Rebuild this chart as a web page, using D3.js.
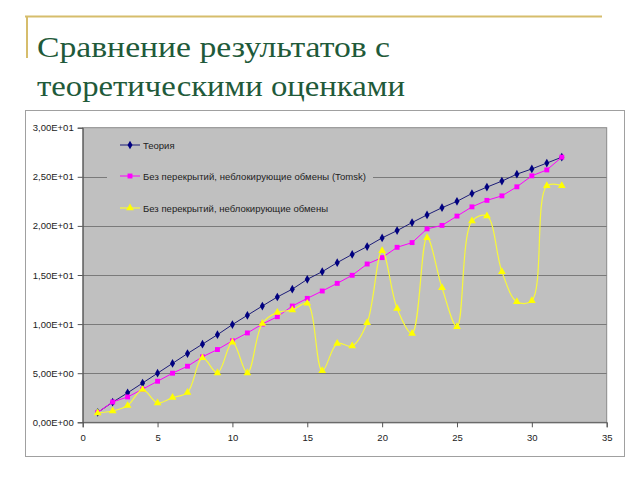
<!DOCTYPE html>
<html><head><meta charset="utf-8">
<script src="https://cdn.jsdelivr.net/npm/d3@7"></script>
<style>html,body{margin:0;padding:0;background:#fff;}svg{display:block;}</style>
</head><body>
<svg id="c" width="640" height="480"></svg>
<script>
const titleLines = ["Сравнение результатов с", "теоретическими оценками"];
const seriesNames = ["Теория", "Без перекрытий, неблокирующие обмены (Tomsk)", "Без перекрытий, неблокирующие обмены"];
const nodes = d3.range(1, 33);
const theory = [1.0, 2.05, 3.0, 4.0, 5.0, 6.0, 7.0, 7.96, 8.92, 9.95, 10.9, 11.84, 12.76, 13.56, 14.56, 15.34, 16.26, 17.1, 17.9, 18.78, 19.52, 20.34, 21.12, 21.85, 22.5, 23.3, 23.95, 24.56, 25.27, 25.8, 26.4, 27.0];
const tomsk = [1.0, 2.07, 2.58, 3.37, 4.18, 5.0, 5.71, 6.67, 7.41, 8.3, 9.1, 10.0, 10.75, 11.84, 12.62, 13.37, 14.15, 14.97, 16.12, 16.77, 17.82, 18.3, 19.7, 20.05, 21.0, 21.94, 22.6, 23.06, 23.98, 25.1, 25.7, 27.0];
const nonblocking = [0.95, 1.15, 1.7, 3.33, 1.97, 2.52, 3.03, 6.56, 5.03, 8.16, 5.03, 10.07, 11.19, 11.43, 12.11, 5.24, 8.03, 7.76, 10.13, 17.48, 11.6, 9.05, 18.8, 13.7, 9.73, 20.5, 21.0, 15.34, 12.28, 12.38, 24.08, 24.1];
const xTicks = [0, 5, 10, 15, 20, 25, 30, 35];
const yTicks = [0, 5, 10, 15, 20, 25, 30];

const svg = d3.select("#c");

// Title decoration
svg.append("line").attr("x1", 25).attr("x2", 602).attr("y1", 16.5).attr("y2", 16.5)
  .attr("stroke", "#d6bd6c").attr("stroke-width", 2);
svg.append("line").attr("x1", 27).attr("x2", 27).attr("y1", 16).attr("y2", 58)
  .attr("stroke", "#d6bd6c").attr("stroke-width", 2);
const titleW = [353, 368];
titleLines.forEach((t, i) => {
  svg.append("text").attr("x", 37).attr("y", 57 + i * 39)
    .attr("font-family", "Liberation Serif, serif").attr("font-size", 30)
    .attr("textLength", titleW[i]).attr("lengthAdjust", "spacingAndGlyphs")
    .attr("fill", "#1f5a3a").text(t);
});

// Chart frame
svg.append("rect").attr("x", 25.5).attr("y", 110.5).attr("width", 599).attr("height", 346)
  .attr("fill", "#fff").attr("stroke", "#a0a0a0").attr("stroke-width", 1);

const m = {l: 82.7, r: 606.7, t: 127.7, b: 422.3};
const x = d3.scaleLinear().domain([0, 35]).range([m.l, m.r]);
const y = d3.scaleLinear().domain([0, 30]).range([m.b, m.t]);

svg.append("rect").attr("x", m.l).attr("y", m.t).attr("width", m.r - m.l).attr("height", m.b - m.t)
  .attr("fill", "#c0c0c0").attr("stroke", "#8a8a8a").attr("stroke-width", 1);

// gridlines
svg.append("g").selectAll("line").data(yTicks.filter(v => v > 0 && v < 30)).join("line")
  .attr("x1", m.l).attr("x2", m.r).attr("y1", d => Math.round(y(d)) + 0.5).attr("y2", d => Math.round(y(d)) + 0.5)
  .attr("stroke", "#7a7a7a").attr("stroke-width", 1);

function fmt(v) {
  if (v === 0) return "0,00E+00";
  const e = Math.floor(Math.log10(v));
  const mant = (v / Math.pow(10, e)).toFixed(2).replace(".", ",");
  return mant + "E" + (e >= 0 ? "+" : "-") + String(Math.abs(e)).padStart(2, "0");
}

const yAxis = svg.append("g").attr("transform", `translate(${m.l},0)`)
  .call(d3.axisLeft(y).tickValues(yTicks).tickFormat(fmt).tickSize(5).tickPadding(4));
const xAxis = svg.append("g").attr("transform", `translate(0,${m.b})`)
  .call(d3.axisBottom(x).tickValues(xTicks).tickSize(5).tickPadding(7));
[yAxis, xAxis].forEach(a => {
  a.selectAll("path").attr("stroke", "#555");
  a.selectAll("line").attr("stroke", "#555");
  a.selectAll("text").attr("font-family", "Liberation Sans, Arial, sans-serif").attr("font-size", 9.5).attr("fill", "#222");
});

// legend background (covers gridlines)
svg.append("rect").attr("x", 107).attr("y", 133).attr("width", 266).attr("height", 88).attr("fill", "#c0c0c0");

const series = [
  {name: seriesNames[0], vals: theory, line: "#1c1c78", mark: "#000080", shape: d3.symbolDiamond, size: 22, curve: d3.curveLinear, lw: 1},
  {name: seriesNames[1], vals: tomsk, line: "#ff00ff", mark: "#ff00ff", shape: d3.symbolSquare, size: 24, curve: d3.curveLinear, lw: 1},
  {name: seriesNames[2], vals: nonblocking, line: "#f8f83a", mark: "#ffff00", shape: d3.symbolTriangle, size: 26, curve: d3.curveCatmullRom.alpha(0.5), lw: 1.2}
];

series.forEach(s => {
  const pts = nodes.map((n, i) => [n, s.vals[i]]);
  svg.append("path").datum(pts)
    .attr("d", d3.line().x(d => x(d[0])).y(d => y(d[1])).curve(s.curve))
    .attr("fill", "none").attr("stroke", s.line).attr("stroke-width", s.lw);
  svg.append("g").selectAll("path").data(pts).join("path")
    .attr("transform", d => `translate(${x(d[0])},${y(d[1])})`)
    .attr("d", d3.symbol().type(s.shape).size(s.size))
    .attr("fill", s.mark);
});

// legend
const legY = [145, 176, 208];
const legW = [null, 223, 185];
series.forEach((s, i) => {
  const g = svg.append("g").attr("transform", `translate(0,${legY[i]})`);
  g.append("line").attr("x1", 120).attr("x2", 140).attr("y1", 0).attr("y2", 0).attr("stroke", s.line).attr("stroke-width", s.lw);
  g.append("path").attr("transform", "translate(130,0)").attr("d", d3.symbol().type(s.shape).size(s.size)).attr("fill", s.mark);
  const t = g.append("text").attr("x", 143).attr("y", 3.5)
    .attr("font-family", "Liberation Sans, Arial, sans-serif").attr("font-size", 9.5).attr("fill", "#222").text(s.name);
  if (legW[i]) t.attr("textLength", legW[i]).attr("lengthAdjust", "spacing");
});
</script>
</body></html>
